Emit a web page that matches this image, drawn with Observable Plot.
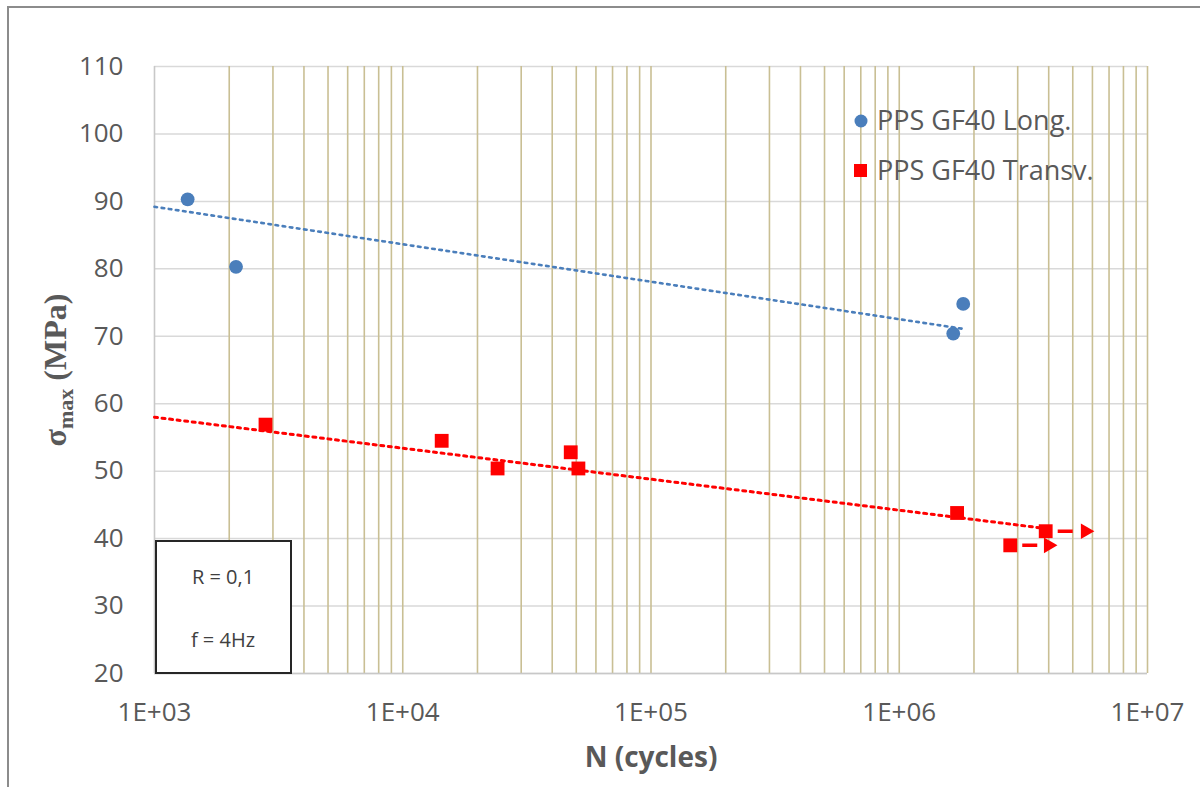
<!DOCTYPE html>
<html>
<head>
<meta charset="utf-8">
<script src="https://cdn.jsdelivr.net/npm/d3@7"></script>
<script src="https://cdn.jsdelivr.net/npm/@observablehq/plot@0.6"></script>
<style>
  html, body { margin: 0; padding: 0; background: #fff; }
  #wrap { position: relative; width: 1200px; height: 787px; overflow: hidden; }
  #border { position: absolute; left: 7px; top: 6px; width: 1300px; height: 900px;
            border-left: 2px solid #8c8c8c; border-top: 2px solid #8c8c8c; }
  #wrap svg { position: absolute; left: 0; top: 0; }
</style>
</head>
<body>
<div id="wrap"><div id="border"></div></div>
<script>
// ---- data ----
const seriesNames = ["PPS GF40 Long.", "PPS GF40 Transv."];
const longN = [1360, 2130, 1650000, 1810000];
const longS = [90.3, 80.3, 70.4, 74.8];
const transN = [2800, 14350, 24100, 47500, 51000, 1710000, 2800000, 3890000];
const transS = [56.9, 54.5, 50.4, 52.8, 50.4, 43.8, 39.0, 41.1];
// run-out specimens (arrows)
const runoutN = [2800000, 3890000];
const runoutS = [39.0, 41.1];
const runoutArrowN = [3990000, 5620000];
// logarithmic trend lines (end points)
const longTrendN = [1000, 1810000];
const longTrendS = [89.2, 71.1];
const transTrendN = [1000, 3890000];
const transTrendS = [58.0, 41.5];
// axes
const xTicks = [1e3, 1e4, 1e5, 1e6, 1e7];
const xTickLabels = ["1E+03", "1E+04", "1E+05", "1E+06", "1E+07"];
const yTicks = [20, 30, 40, 50, 60, 70, 80, 90, 100, 110];
const boxLines = ["R = 0,1", "f = 4Hz"];

const blue = "#4a7ebb", red = "#ff0000";
const longData = longN.map((n, i) => ({n, s: longS[i]}));
const transData = transN.map((n, i) => ({n, s: transS[i]}));
const runData = runoutN.map((n, i) => ({n, s: runoutS[i], n2: runoutArrowN[i]}));
const longTrend = longTrendN.map((n, i) => ({n, s: longTrendS[i]}));
const transTrend = transTrendN.map((n, i) => ({n, s: transTrendS[i]}));
// minor/major vertical gridlines (log axis ticks)
const vGrid = [];
for (let e = 3; e < 7; e++) for (let k = 1; k <= 9; k++) { const v = k * 10 ** e; if (v > 1e3) vGrid.push(v); }
vGrid.push(1e7);

const chart = Plot.plot({
  width: 1200, height: 787,
  marginLeft: 154, marginRight: 53, marginTop: 66, marginBottom: 114,
  style: {fontFamily: "'Open Sans', sans-serif", fontSize: "26px", color: "#595959", background: "transparent"},
  x: {type: "log", domain: [1e3, 1e7], ticks: xTicks,
      tickFormat: d => xTickLabels[xTicks.indexOf(d)], tickSize: 0, tickPadding: 29, label: null},
  y: {domain: [20, 110], ticks: yTicks, tickSize: 0, tickPadding: 31, label: null},
  marks: [
    Plot.ruleY(yTicks, {stroke: "#d9d9d9", strokeWidth: 1.5}),
    Plot.ruleX(vGrid, {stroke: "#c9bf94", strokeWidth: 1.6}),
    Plot.ruleX([1e3], {stroke: "#c8c8c8", strokeWidth: 1.6}),
    Plot.ruleY([20], {stroke: "#c8c8c8", strokeWidth: 1.6}),
    Plot.dot(longData, {x: "n", y: "s", r: 6.9, fill: blue}),
    Plot.dot(transData, {x: "n", y: "s", r: 7.8, symbol: "square", fill: red}),
    Plot.link(runData, {x1: "n", y1: "s", x2: "n2", y2: "s", stroke: red, strokeWidth: 3.5, strokeDasharray: "0,12,15,100"}),
    Plot.dot(runData, {x: "n2", y: "s", symbol: "triangle", rotate: 90, r: 5.8, fill: red}),
    Plot.line(longTrend, {x: "n", y: "s", stroke: blue, strokeWidth: 2.6, strokeDasharray: "2.6,4.6"}),
    Plot.line(transTrend, {x: "n", y: "s", stroke: red, strokeWidth: 3, strokeDasharray: "3,4.6"})
  ]
});

document.getElementById("wrap").appendChild(chart);
const svg = d3.select(chart);

// Y-axis title
const yt = svg.append("text")
  .attr("transform", "translate(66,370) rotate(-90)")
  .attr("text-anchor", "middle")
  .attr("font-family", "'Liberation Serif', 'Times New Roman', serif")
  .attr("font-weight", "bold")
  .attr("font-size", 32)
  .attr("fill", "#595959");
yt.append("tspan").text("σ");
yt.append("tspan").attr("font-size", 22).attr("dy", 7).text("max");
yt.append("tspan").attr("dy", -7).text(" (MPa)");

// X-axis title
svg.append("text")
  .attr("x", 651).attr("y", 767)
  .attr("text-anchor", "middle")
  .attr("font-family", "'Open Sans', sans-serif")
  .attr("font-weight", "bold")
  .attr("font-size", 28)
  .attr("fill", "#595959")
  .text("N (cycles)");

// Legend
const lg = svg.append("g").attr("font-family", "'Open Sans', sans-serif").attr("font-size", 27)
  .attr("fill", "#595959").attr("text-anchor", "start");
lg.append("circle").attr("cx", 861).attr("cy", 121).attr("r", 6.5).attr("fill", blue);
lg.append("text").attr("x", 877).attr("y", 130).attr("text-anchor", "start").text(seriesNames[0]);
lg.append("rect").attr("x", 854).attr("y", 164).attr("width", 13).attr("height", 13).attr("fill", red);
lg.append("text").attr("x", 877).attr("y", 180).attr("text-anchor", "start").text(seriesNames[1]);

// Annotation box
const bx = svg.append("g");
bx.append("rect").attr("x", 156).attr("y", 541).attr("width", 135).attr("height", 132)
  .attr("fill", "#fff").attr("stroke", "#262626").attr("stroke-width", 2);
bx.append("text").attr("x", 223).attr("y", 584).attr("text-anchor", "middle")
  .attr("font-family", "'Open Sans', sans-serif").attr("font-size", 20).attr("fill", "#404040").text(boxLines[0]);
bx.append("text").attr("x", 223).attr("y", 647).attr("text-anchor", "middle")
  .attr("font-family", "'Open Sans', sans-serif").attr("font-size", 20).attr("fill", "#404040").text(boxLines[1]);
</script>
</body>
</html>
